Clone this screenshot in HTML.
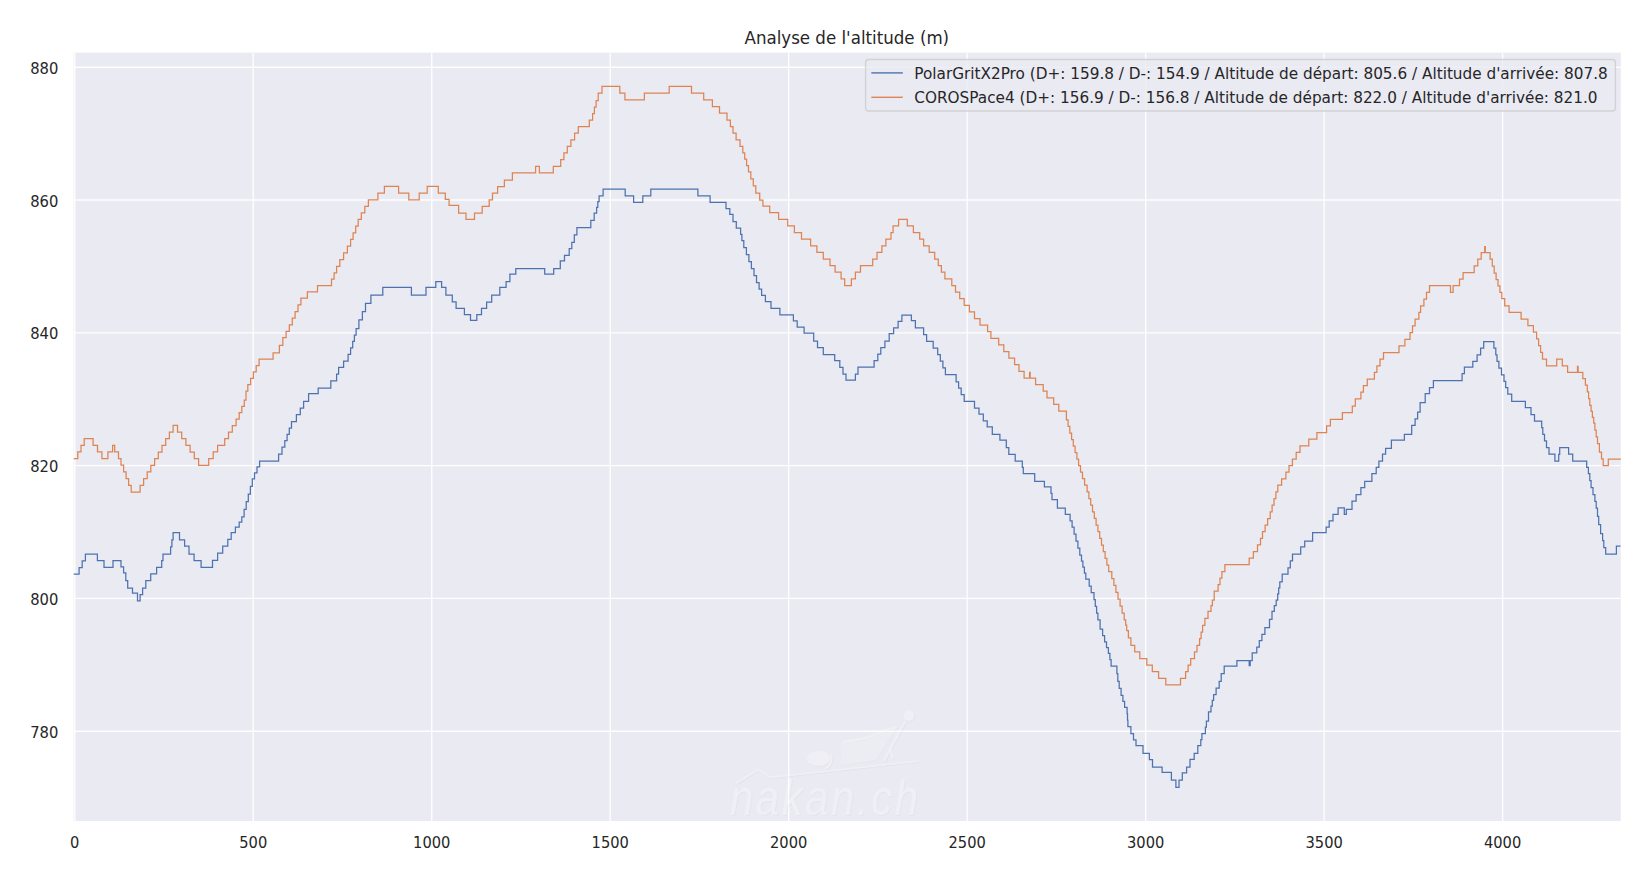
<!DOCTYPE html>
<html lang="fr">
<head>
<meta charset="utf-8">
<title>Analyse de l'altitude (m)</title>
<style>
html,body{margin:0;padding:0;background:#ffffff;}
body{width:1652px;height:880px;overflow:hidden;font-family:"DejaVu Sans","Liberation Sans",sans-serif;}
</style>
</head>
<body>
<svg width="1652" height="880" viewBox="0 0 1652 880" style="display:block">
<rect x="0" y="0" width="1652" height="880" fill="#ffffff"/>
<rect x="73.6" y="52.6" width="1547.2" height="768.4" fill="#eaeaf2"/>
<filter id="wb" x="-5%" y="-5%" width="110%" height="110%"><feOffset in="SourceAlpha" dx="1.2" dy="1.4" result="o"/><feFlood flood-color="#d4d4e0"/><feComposite in2="o" operator="in" result="sh"/><feMerge result="m"><feMergeNode in="sh"/><feMergeNode in="SourceGraphic"/></feMerge><feGaussianBlur in="m" stdDeviation="0.5"/></filter>
<clipPath id="ax"><rect x="73.6" y="52.6" width="1547.2" height="768.4"/></clipPath>
<g stroke="#ffffff" stroke-opacity="0.92" stroke-width="1.39" stroke-linecap="butt" clip-path="url(#ax)">
<line x1="74.78" x2="74.78" y1="52.6" y2="821.0"/>
<line x1="253.26" x2="253.26" y1="52.6" y2="821.0"/>
<line x1="431.74" x2="431.74" y1="52.6" y2="821.0"/>
<line x1="610.22" x2="610.22" y1="52.6" y2="821.0"/>
<line x1="788.70" x2="788.70" y1="52.6" y2="821.0"/>
<line x1="967.18" x2="967.18" y1="52.6" y2="821.0"/>
<line x1="1145.66" x2="1145.66" y1="52.6" y2="821.0"/>
<line x1="1324.14" x2="1324.14" y1="52.6" y2="821.0"/>
<line x1="1502.62" x2="1502.62" y1="52.6" y2="821.0"/>
<line x1="73.6" x2="1620.8" y1="731.18" y2="731.18"/>
<line x1="73.6" x2="1620.8" y1="598.40" y2="598.40"/>
<line x1="73.6" x2="1620.8" y1="465.62" y2="465.62"/>
<line x1="73.6" x2="1620.8" y1="332.84" y2="332.84"/>
<line x1="73.6" x2="1620.8" y1="200.06" y2="200.06"/>
<line x1="73.6" x2="1620.8" y1="67.28" y2="67.28"/>
</g>
<g opacity="0.25" filter="url(#wb)" fill="#ffffff" stroke="#ffffff"><text transform="translate(730,814.5) scale(1,1.18)" font-family="'Liberation Sans', sans-serif" font-style="italic" font-size="42" textLength="188" lengthAdjust="spacing" stroke="none">nakan.ch</text><path d="M736 783.2 L758.3 769.5 L770.7 777.4 L919 761" fill="none" stroke-width="1.6"/><ellipse cx="818.5" cy="758.5" rx="11.5" ry="7.5" stroke="none"/><path d="M831 755 Q833 764 825 769" fill="none" stroke-width="2"/><path d="M841 765 L843 742 L866 738 L888 729 L897 727 L876 760 Z" stroke="none" fill-opacity="0.55"/><path d="M843 742 L866 738 L888 729 L897 727" fill="none" stroke-width="1.8"/><path d="M905 722 L896 738 L884 761 M898 736 L890 748 L893 758" fill="none" stroke-width="2.2"/><circle cx="909" cy="715.5" r="5.2" stroke="none"/></g>
<g fill="none" stroke-width="1.25" stroke-linejoin="miter" stroke-linecap="square" clip-path="url(#ax)">
<path stroke="#4c72b0" d="M74.0 574.2H79.1H79.1V567.5H82.2V560.8H85.4V554.1H85.4H96.9H97.4V560.7H97.9H103.5H104.0V567.3H104.5H112.1H113.0V560.7H113.9H121.0H121.0V566.8H123.6V572.9H124.8H125.8V580.5H127.7V588.1H128.6H132.5V593.2H136.3H137.5V600.8H137.5H140.1H140.1V594.5H142.6V588.1H143.9H145.8V580.5H147.7H150.7V573.9H156.6V567.3H156.6H161.7H161.7V560.7H163.0V554.1H163.0H170.6H170.6V546.9H171.9V539.8H173.1V532.7H173.1H179.5H179.5V539.8H182.0H184.6V546.2H187.1H189.0V554.1H190.9H194.1V560.7H197.3H201.1V567.3H201.1H212.5H212.5V560.3H217.6V553.2H222.7V546.2H222.7H227.8H227.8V539.4H231.2V532.7H232.9H235.4V527.1H238.0H239.2V522.0H241.8V516.9H243.1H244.1V509.3H246.2V501.7H248.3V494.1H249.4H250.4V486.4H252.3V478.8H253.2H254.5V472.9H257.0V466.9H259.6V461.0H259.6H278.6H278.6V454.0H282.0V447.0H283.7H284.8V440.7H287.1V434.3H289.3V428.0H291.5V421.6H292.6H296.4V414.7H296.4H300.3H300.3V408.0H303.6V401.3H305.3H308.6V393.6H308.6H317.5H318.2V388.0H318.8H330.3H330.8V380.8H331.3H336.6H336.6V374.1H338.6V367.4H338.6H343.0H343.6V361.0H344.2H348.1H348.1V354.4H350.6V347.8H351.9H352.7V341.4H354.4V335.1H356.1V328.7H356.9H358.9V319.8H360.8H362.4V311.6H365.5V303.3H367.1H370.9V295.2H370.9H382.4H382.8V287.3H383.1H410.8H411.4V295.2H411.9H425.6H426.0V287.3H426.4H435.3H435.8V281.7H436.3H440.8H441.6V287.3H442.4H445.4H445.9V295.2H446.4H452.3H452.3V301.8H456.1V308.4H456.1H463.7H464.4V314.7H465.0H470.1H470.5V320.3H470.8H476.4H476.8V314.7H477.2H481.0H481.5V308.4H482.0H486.1H486.6V302.0H487.1H491.2H491.7V295.2H492.2H499.3H499.8V287.3H500.3H505.7H506.1V281.7H506.4H509.5H509.9V274.1H510.3H515.3H515.8V268.5H516.4H544.3H544.7V274.1H545.1H553.2H553.7V268.5H554.2H559.8H560.3V260.8H560.8H564.2H564.5V255.3H564.9H569.2H569.2V248.6H570.5H571.8V242.3H573.1H574.3V234.9H576.9V227.5H576.9H590.8H590.8V220.3H594.2V213.1H595.9H596.6V207.3H597.8V201.5H599.1V195.8H599.7H603.1V189.2H603.1H624.7H625.2V195.8H625.7H633.1H633.6V202.4H634.1H642.5H642.8V195.8H643.2H650.3H650.8V189.2H651.4H660.0H697.4H697.9V195.8H698.4H709.6H710.1V202.4H710.6H725.3H726.0V208.5H726.6H729.2H729.8V214.3H730.4H732.5H733.0V221.7H733.5H736.3H736.3V228.0H740.0H740.6V234.3H741.9V240.7H742.5H743.8V247.7H746.4V254.7H747.6H748.9V261.7H751.4V268.6H752.7H754.0V275.6H756.5V282.6H757.8H759.1V289.0H761.6V295.3H762.9H765.4V301.7H765.4H770.5H771.0V308.3H771.5H779.4H779.9V314.9H780.4H793.4H793.4V320.8H794.7H797.2V327.1H797.2H803.6H804.1V333.2H804.6H813.7H813.7V341.1H815.0H817.5V347.5H817.5H822.6H823.3V354.6H823.9H834.1H834.7V360.7H835.3H839.2H839.8V367.3H840.4H843.0H843.0V374.2H844.2H846.0V380.0H846.0H854.9H855.4V374.2H855.9H857.5H858.0V367.0H858.5H873.5H874.1V360.7H874.7H877.3H877.8V354.1H878.3H880.3H880.8V347.5H881.4H884.4H884.9V341.1H885.4H888.7H889.2V333.5H889.7H893.1H893.6V327.9H894.1H897.6H898.1V321.3H898.6H901.4H901.9V315.2H902.5H910.8H911.4V320.5H911.9H914.9H915.4V327.9H915.9H923.1H923.6V334.7H924.1H926.1H926.6V341.4H927.1H932.7H933.2V348.0H933.7H937.0H937.7V354.6H938.3H939.8H940.3V361.2H940.8H942.4H942.9V367.8H943.4H944.9H945.4V374.7H945.9H956.1H956.1V381.8H957.4H958.6V388.1H958.6H961.2H961.2V394.5H962.5H964.2V401.4H964.2H973.9H974.5V408.0H975.2H978.5H979.0V414.1H979.5H982.8H983.3V420.8H983.9H986.7H987.2V426.9H987.7H991.8H992.3V434.3H992.8H999.4H999.9V440.2H1000.4H1005.8H1006.3V447.5H1006.8H1008.3H1008.8V454.4H1009.3H1014.7H1015.2V461.0H1015.7H1022.3H1022.3V467.4H1023.3V473.7H1023.3H1034.2H1034.7V481.4H1035.3H1043.9H1044.4V486.9H1044.9H1051.0H1051.0V493.3H1052.0V499.7H1052.0H1056.6H1057.4V508.1H1058.1H1064.7H1065.3V514.4H1065.8H1070.1H1070.1V520.8H1072.1V527.1H1073.1H1074.1V534.1H1076.0V541.1H1076.9H1077.9V548.1H1079.8V555.1H1080.8H1081.5V561.1H1082.9V567.2H1084.4V573.2H1085.8V579.2H1085.8H1089.2H1089.2V586.0H1091.2V592.7H1091.2H1094.0H1094.0V599.5H1095.3V606.3H1096.6V613.1H1097.9V619.9H1098.6H1100.1V629.2H1101.7H1102.6V635.6H1104.6V641.9H1105.5H1106.5V647.7H1108.4V653.4H1109.3H1109.9V659.7H1111.1V666.1H1111.1H1116.9H1116.9V673.7H1117.8V681.4H1118.2H1119.2V688.3H1121.1V695.3H1122.0H1122.9V701.3H1124.6V707.3H1124.6H1127.1H1127.1V713.7H1127.5V720.2H1127.9V726.6H1127.9H1130.9H1130.9V733.5H1132.2H1133.5V739.8H1134.7H1136.0V745.7H1136.0H1142.4H1143.0V753.3H1143.6H1148.7H1149.4V759.7H1150.0H1152.0H1152.5V767.0H1153.1H1161.4H1162.1V772.4H1162.7H1170.8H1171.4V780.0H1171.9H1175.4H1175.9V787.4H1176.4H1178.5H1179.0V780.0H1179.5H1181.8H1182.3V772.9H1182.8H1186.1H1186.6V767.0H1187.1H1189.4H1190.0V759.4H1190.7H1193.7H1194.2V753.3H1194.7H1197.3H1197.8V745.7H1198.3H1200.8H1200.8V739.6H1201.9V733.5H1201.9H1205.4H1205.4V727.2H1206.4V721.0H1206.4H1208.0H1208.5V711.9H1209.0H1211.0H1211.0V706.1H1212.3V700.3H1213.6V694.6H1213.6H1216.1H1216.1V688.0H1219.2V681.4H1219.2H1221.2H1221.2V673.7H1224.2V666.1H1224.2H1236.4H1236.9V660.5H1237.5H1248.6H1249.2V665.6H1249.7H1250.2V660.5H1250.7H1251.7H1252.2V652.9H1252.7H1256.3H1256.8V647.0H1257.3H1259.3H1259.3V640.7H1261.9V634.3H1261.9H1264.4H1264.9V627.5H1265.4H1269.5H1269.5V619.4H1272.0V611.4H1273.3H1274.3V605.7H1276.2V600.0H1277.1H1277.7V593.9H1278.7V587.9H1279.8V581.8H1280.3H1282.2V574.2H1284.2H1288.0V567.8H1288.0H1289.7H1290.3V560.9H1290.8H1292.0H1292.5V554.1H1293.1H1300.2H1300.7V546.9H1301.2H1304.2H1304.7V541.1H1305.3H1312.1H1312.6V532.7H1313.1H1325.6H1326.1V527.1H1326.6H1328.6H1329.2V520.8H1329.7H1332.5H1333.0V514.4H1333.5H1337.5H1338.1V507.8H1338.6H1343.9H1344.3V514.4H1344.7H1345.9H1346.3V509.3H1346.7H1351.5H1352.0V501.2H1352.5H1355.6H1356.1V494.6H1356.6H1360.4H1360.9V487.7H1361.4H1364.2H1364.7V481.4H1365.3H1371.4H1371.9V473.7H1372.4H1375.7H1376.2V467.4H1376.7H1378.2H1378.9V461.0H1379.5H1382.0H1382.5V454.2H1383.0H1385.1H1385.6V448.3H1386.1H1390.9H1391.4V440.2H1391.9H1403.9H1404.4V434.3H1404.9H1411.7H1411.7V425.4H1413.8H1415.1V418.8H1417.6V412.2H1418.9H1420.1V402.5H1421.4H1425.2V393.5H1425.2H1429.0H1429.5V387.6H1430.1H1432.8H1433.4V380.5H1433.9H1461.6H1462.1V373.6H1462.6H1463.9H1464.4V367.0H1464.9H1472.3H1472.8V361.4H1473.3H1476.6H1477.1V354.8H1477.6H1480.1H1480.6V348.2H1481.2H1483.2H1483.7V341.6H1484.2H1493.9H1493.9V348.2H1495.1H1495.8V354.8H1497.0V361.4H1497.7H1498.9V368.2H1501.5V374.9H1501.5H1504.0H1504.0V381.3H1505.7V387.6H1506.6H1507.8V394.0H1509.1H1511.7V401.4H1511.7H1524.9H1525.4V407.6H1525.9H1530.0H1531.0V414.5H1532.0H1534.0H1534.5V421.1H1535.1H1541.7H1541.7V427.7H1542.8V434.3H1543.4H1544.5V440.9H1546.5V447.5H1546.5H1548.5H1549.0V454.2H1549.5H1554.4H1554.9V461.0H1555.4H1558.7H1558.7V454.3H1559.7V447.5H1559.7H1568.1H1568.6V454.2H1569.1H1572.2H1572.7V461.0H1573.2H1586.7H1586.7V467.4H1588.4V473.7H1589.2H1589.8V480.7H1591.1V487.7H1591.7H1593.0V494.6H1594.3H1594.9V501.3H1596.2V508.1H1596.8H1597.5V516.3H1598.7V524.6H1599.4H1600.6V533.5H1601.9H1602.6V540.5H1603.8V547.5H1604.5H1605.7V554.1H1605.7H1615.9H1616.4V546.2H1616.9H1620.0"/>
<path stroke="#dd8452" d="M74.0 458.5H77.8H77.8V451.9H81.0V445.3H84.2V438.6H84.2H93.1H93.1V445.3H97.5V451.9H101.9V458.5H101.9H107.0H107.9V451.9H108.8H112.1H112.6V445.3H113.1H114.2H114.7V451.9H115.2H118.0H118.5V458.5H119.0H121.0H121.0V465.2H123.6V471.9H126.1V478.6H128.6V485.3H131.2V492.0H131.2H140.1H140.1V485.3H143.6V478.6H147.2V471.9H149.0H150.8V465.3H154.6V458.7H158.3V452.0H162.0V445.4H165.7V438.7H169.4V432.1H173.1V425.4H173.1H177.5H177.5V432.1H181.7V438.7H185.9V445.4H190.1V452.0H194.3V458.7H198.6V465.3H198.6H208.7H208.7V458.6H213.2V451.9H217.6V445.3H217.6H224.7H224.7V438.7H228.5V432.2H232.3V425.6H236.1V419.1H238.0H239.2V412.7H241.8V406.4H244.3V400.0H245.6H246.0V391.0H246.4H247.8V384.7H250.6V378.3H253.4V371.9H256.2V365.6H259.1V359.2H259.1H271.8H273.1V352.9H274.3H279.4H279.4V345.3H282.8V337.6H284.5H286.1V331.3H289.3V324.9H290.8H292.3V318.2H295.1V311.6H298.0V304.9H300.9V298.2H302.3H307.4V291.9H307.4H316.3H317.5V285.5H318.8H331.5H331.5V279.2H334.1V272.8H336.6V266.4H337.9H339.8V259.7H343.6V252.9H347.4V246.1H349.3H350.6V239.4H353.1V232.8H355.7V226.1H358.2V219.4H359.5H361.3V212.9H364.8V206.4H368.4V199.8H368.4H377.3H377.9V193.2H378.6H383.9H384.4V186.4H384.9H397.6H398.6V193.2H399.7H407.8H408.8V199.8H409.8H418.0H419.2V193.2H420.5H426.9H427.2V186.4H427.6H438.3H438.3V193.2H443.4H445.3V199.3H449.1V205.4H451.0H458.6V213.1H458.6H465.0H466.0V219.4H467.0H473.9H474.5V213.1H475.2H481.5H482.2V206.4H482.8H489.2H489.2V199.8H492.5V193.2H494.2H497.6V186.6H504.4V180.0H504.4H511.8H512.4V172.9H513.1H535.2H535.6V166.3H535.9H539.0H539.4V172.9H539.7H553.0H553.3V166.3H553.7H560.1H560.7V159.7H561.4H563.4H563.9V152.8H564.4H566.9H567.3V146.4H567.7H570.3H570.9V139.8H571.5H574.1H574.6V133.2H575.1H577.9H578.3V126.6H578.6H588.8H589.3V120.0H589.8H592.6H592.6V113.6H594.4V107.1H596.1V100.7H596.9H598.2V93.1H599.5H602.0V86.4H602.0H619.3H619.8V93.1H620.3H624.4H624.9V99.9H625.4H644.0H644.4V93.1H644.7H668.6H669.2V86.4H669.7H691.0H691.5V93.1H692.0H703.2H703.7V99.9H704.2H711.9H712.4V106.5H712.9H719.0H719.5V113.1H720.0H726.1H727.0V120.0H727.9H730.4H730.4V126.6H731.7H733.0V133.2H734.2H736.1V139.8H738.1H740.0V146.4H741.9H742.8V152.8H744.7V159.2H746.6V165.5H748.5V171.9H749.5H750.8V178.9H753.3V185.9H755.8V193.0H757.1H759.7V200.0H762.4H762.9V206.1H762.9H769.2H769.7V212.7H770.3H778.1H778.6V219.3H779.2H787.0H787.7V225.9H788.3H793.9H794.4V232.5H794.9H801.0H801.5V239.2H802.0H809.9H810.6V245.8H811.2H816.3H816.9V252.4H817.5H822.6H823.3V259.0H823.9H829.5H830.0V265.6H830.5H834.6H835.1V272.2H835.6H840.4H841.1V278.8H841.7H844.2H844.7V285.7H845.3H850.8H851.4V278.8H851.9H854.9H855.4V272.2H855.9H860.0H860.5V265.6H861.0H872.2H872.7V259.0H873.2H876.5H877.0V252.4H877.5H881.4H881.9V245.8H882.4H885.4H885.9V239.2H886.4H891.0H891.0V232.5H892.0H893.1V225.9H893.1H898.1H898.6V219.3H899.2H906.8H907.3V225.9H907.8H912.9H913.4V232.5H913.9H919.2H919.7V239.2H920.3H923.1H923.6V245.8H924.1H928.6H929.2V252.4H929.7H934.2H934.7V259.0H935.3H937.8H938.3V265.6H938.8H940.8H941.4V272.2H941.9H944.4H944.9V278.8H945.4H951.0H951.8V285.7H952.5H954.8H955.5V292.0H956.1H959.2H959.7V298.6H960.2H963.7H964.2V305.3H964.7H968.8H969.4V311.9H970.1H973.9H974.5V318.5H975.2H979.5H980.0V325.1H980.5H987.1H987.6V331.7H988.1H990.4H990.9V338.3H991.4H998.1H998.7V344.9H999.3H1003.1H1003.8V351.5H1004.4H1008.2H1008.9V358.1H1009.5H1014.1H1014.6V364.7H1015.1H1018.4H1019.0V371.4H1019.7H1023.5H1024.1V378.0H1024.7H1029.3H1029.6V372.4H1029.8H1030.2V378.0H1030.6H1034.9H1035.6V384.6H1036.2H1042.5H1043.2V391.2H1043.8H1046.4H1047.0V397.8H1047.6H1053.2H1053.7V404.4H1054.2H1058.3H1058.8V411.0H1059.3H1065.4H1066.4V419.9H1067.5H1068.1H1068.1V426.4H1069.8V433.0H1071.6V439.5H1073.3V446.0H1075.1V452.5H1076.9V459.1H1078.6V465.6H1079.5H1080.5V472.1H1082.5V478.6H1084.6V485.2H1084.6H1087.1H1087.1V491.8H1088.9V498.5H1090.7V505.1H1092.5V511.8H1094.3V518.4H1096.1V525.1H1097.9V531.7H1099.7V538.4H1101.5V545.0H1103.3V551.7H1105.1V558.3H1106.9V565.0H1108.7V571.6H1108.7H1111.8H1111.8V578.5H1113.9V585.4H1115.9V592.3H1118.0V599.2H1120.1V606.1H1122.1V613.0H1124.2V619.9H1125.3H1125.7V625.2H1126.7V630.5H1127.1H1128.4V637.9H1130.9V645.3H1130.9H1134.2H1134.7V651.9H1135.3H1139.3H1139.8V658.5H1140.3H1146.2H1146.8V665.1H1147.5H1151.8H1152.3V671.7H1152.8H1158.1H1158.6V678.3H1159.2H1165.3H1165.8V684.9H1166.3H1180.0H1180.5V678.3H1181.0H1185.1H1185.6V671.7H1186.1H1188.1H1188.1V665.1H1190.7V658.5H1190.7H1194.5H1194.5V651.9H1197.0V645.3H1197.0H1199.6H1199.6V638.6H1201.1V632.0H1202.6V625.4H1203.4H1204.9V618.4H1208.0V611.4H1208.0H1211.0H1211.0V605.7H1212.4V600.0H1213.1H1214.2V591.2H1214.2H1218.1H1218.1V584.7H1220.0V578.1H1221.9V571.6H1221.9H1224.4H1224.9V564.7H1225.4H1248.6H1249.2V558.1H1249.8H1252.9H1253.4V551.5H1253.9H1256.9H1257.5V544.9H1258.0H1260.5H1260.5V538.3H1262.5V531.7H1262.5H1265.1H1265.1V525.1H1267.6V518.5H1267.6H1270.2H1270.2V511.8H1272.1V505.2H1274.0V498.5H1275.9V491.8H1277.8V485.2H1277.8H1280.8H1281.6V478.8H1282.4H1285.4H1285.9V472.2H1286.4H1288.5H1289.0V465.6H1289.5H1291.8H1292.4V459.0H1293.1H1295.6H1296.2V452.4H1296.9H1299.4H1300.0V445.8H1300.7H1308.3H1308.8V439.2H1309.3H1316.4H1316.9V432.5H1317.5H1326.1H1326.6V425.9H1327.1H1329.9H1330.4V419.3H1330.9H1341.9H1342.4V412.7H1342.9H1351.5H1352.3V406.1H1353.1H1355.3H1355.3V398.8H1359.9H1360.9V392.2H1360.9H1362.9H1363.4V385.6H1363.9H1366.7H1367.3V379.0H1367.8H1373.9H1374.4V372.4H1374.9H1376.4H1376.9V365.8H1377.4H1379.5H1380.0V359.2H1380.5H1383.0H1383.5V352.5H1384.0H1398.5H1399.0V345.9H1399.5H1404.4H1404.9V339.3H1405.4H1409.5H1410.0V332.7H1410.5H1412.5H1412.5V325.8H1415.1V319.0H1415.1H1418.9H1418.9V312.4H1420.6V305.8H1420.6H1423.9H1423.9V299.0H1426.5V292.3H1426.5H1429.0H1429.5V285.7H1430.1H1450.1H1450.5V292.3H1450.9H1452.7H1453.1V285.7H1453.4H1459.0H1459.5V279.1H1460.1H1462.3H1463.1V272.5H1463.9H1473.5H1474.2V265.8H1474.8H1477.3H1477.8V259.2H1478.4H1480.6H1481.2V252.6H1481.7H1484.5H1484.7V246.5H1485.0H1485.3V252.6H1485.7H1490.1H1490.1V259.2H1491.3H1492.3V266.2H1494.2V273.2H1495.1H1496.1V279.6H1498.0V285.9H1498.9H1499.9V292.3H1501.8V298.6H1502.8H1504.7V305.8H1506.6H1509.1V312.4H1509.1H1520.6H1521.1V319.0H1521.6H1527.4H1527.9V325.6H1528.4H1532.8H1533.4V332.2H1534.0H1536.6H1536.6V338.9H1538.6V345.7H1539.6H1540.6V352.4H1542.5V359.2H1543.4H1546.5V365.8H1546.5H1556.2H1556.7V359.2H1557.2H1561.7H1562.3V365.8H1562.8H1567.1H1567.6V372.4H1568.1H1577.3H1577.5V366.3H1577.8H1578.1V372.4H1578.5H1582.8H1582.8V378.7H1585.4V385.1H1586.7H1587.3V391.9H1588.6V398.6H1589.8V405.4H1590.5H1591.1V411.4H1592.4V417.3H1593.7V423.2H1594.3H1594.9V430.0H1596.2V436.8H1597.5V443.6H1598.1H1599.4V452.1H1600.6H1601.5V458.9H1603.2V465.6H1603.2H1607.8H1608.3V459.0H1608.8H1620.5"/>
</g>
<g font-family="'DejaVu Sans', 'Liberation Sans', sans-serif" font-size="15.28" fill="#262626">
<text transform="translate(74.78,848.2) scale(0.96,1)" text-anchor="middle">0</text>
<text transform="translate(253.26,848.2) scale(0.96,1)" text-anchor="middle">500</text>
<text transform="translate(431.74,848.2) scale(0.96,1)" text-anchor="middle">1000</text>
<text transform="translate(610.22,848.2) scale(0.96,1)" text-anchor="middle">1500</text>
<text transform="translate(788.70,848.2) scale(0.96,1)" text-anchor="middle">2000</text>
<text transform="translate(967.18,848.2) scale(0.96,1)" text-anchor="middle">2500</text>
<text transform="translate(1145.66,848.2) scale(0.96,1)" text-anchor="middle">3000</text>
<text transform="translate(1324.14,848.2) scale(0.96,1)" text-anchor="middle">3500</text>
<text transform="translate(1502.62,848.2) scale(0.96,1)" text-anchor="middle">4000</text>
<text transform="translate(58.3,737.68) scale(0.965,1)" text-anchor="end">780</text>
<text transform="translate(58.3,604.90) scale(0.965,1)" text-anchor="end">800</text>
<text transform="translate(58.3,472.12) scale(0.965,1)" text-anchor="end">820</text>
<text transform="translate(58.3,339.34) scale(0.965,1)" text-anchor="end">840</text>
<text transform="translate(58.3,206.56) scale(0.965,1)" text-anchor="end">860</text>
<text transform="translate(58.3,73.78) scale(0.965,1)" text-anchor="end">880</text>
</g>
<text transform="translate(846.8,43.8) scale(1,1.09)" text-anchor="middle" font-family="'DejaVu Sans', 'Liberation Sans', sans-serif" font-size="16.67" fill="#262626">Analyse de l'altitude (m)</text>
<rect x="865.6" y="59.5" width="749.8" height="51.5" rx="3" ry="3" fill="#eaeaf2" fill-opacity="0.8" stroke="#cccccc" stroke-opacity="0.8" stroke-width="1.39"/>
<line x1="871.3" x2="902.8" y1="72.9" y2="72.9" stroke="#4c72b0" stroke-width="1.39"/>
<line x1="871.3" x2="902.8" y1="97.3" y2="97.3" stroke="#dd8452" stroke-width="1.39"/>
<g font-family="'DejaVu Sans', 'Liberation Sans', sans-serif" font-size="15.28" fill="#262626">
<text x="914.3" y="78.7">PolarGritX2Pro (D+: 159.8 / D-: 154.9 / Altitude de départ: 805.6 / Altitude d'arrivée: 807.8</text>
<text x="914.3" y="102.8">COROSPace4 (D+: 156.9 / D-: 156.8 / Altitude de départ: 822.0 / Altitude d'arrivée: 821.0</text>
</g>
</svg>
</body>
</html>
